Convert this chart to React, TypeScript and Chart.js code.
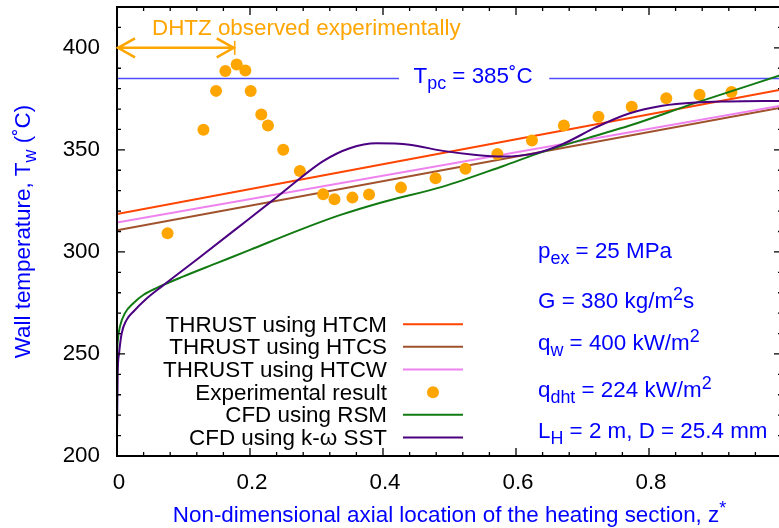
import React, { useEffect, useRef } from 'react';
import { Chart, registerables } from 'chart.js';

Chart.register(...registerables);

const FONT = '"Liberation Sans", Arial, Helvetica, sans-serif';
const FS = 22.4;

// ---- axes ----
const X_MIN = 0, X_MAX = 1, X_MINOR = 0.04;
const Y_MIN = 200, Y_MAX = 420, Y_MINOR = 10;
const X_TICKS = [0, 0.2, 0.4, 0.6, 0.8, 1];
const X_TICK_LABELS = ['0', '0.2', '0.4', '0.6', '0.8', ''];
const Y_TICKS = [200, 250, 300, 350, 400];
const Y_TICK_LABELS = ['200', '250', '300', '350', '400'];

// ---- THRUST results ----
const THRUST_Z = [0, 1];
const HTCM_T = [318.6, 379.6];
const HTCS_T = [310.6, 370.8];
const HTCW_T = [314.4, 371.8];

// ---- experiment ----
const EXP_Z = [0.076, 0.130, 0.149, 0.163, 0.180, 0.193, 0.201, 0.217, 0.227, 0.250, 0.275, 0.310, 0.327,
  0.354, 0.379, 0.427, 0.479, 0.524, 0.572, 0.624, 0.672, 0.724, 0.774, 0.826, 0.876, 0.924];
const EXP_T = [309.2, 359.8, 378.9, 388.6, 391.8, 388.9, 378.8, 367.3, 361.9, 350.0, 339.7, 328.3, 325.8,
  326.6, 328.1, 331.5, 336.1, 340.7, 348.0, 354.6, 361.9, 366.2, 371.1, 375.3, 377.0, 378.3];

// ---- CFD RSM ----
const RSM_Z = [0, 0.001, 0.0045, 0.012, 0.025, 0.04, 0.06, 0.1, 0.15, 0.2, 0.275, 0.335, 0.395, 0.49, 0.58, 0.64, 0.71, 0.77, 0.87, 1.0];
const RSM_T = [250, 256, 263.5, 270, 275, 279, 282.4, 288, 294.5, 301, 310.8, 318, 324, 332, 342, 349, 356, 361.8, 373, 386.8];

// ---- CFD k-omega SST ----
const SST_Z = [0, 0.001, 0.003, 0.007, 0.0145, 0.0245, 0.045, 0.067, 0.125, 0.195, 0.235, 0.275, 0.31, 0.35, 0.39,
  0.44, 0.49, 0.54, 0.58, 0.63, 0.67, 0.72, 0.77, 0.82, 0.87, 0.92, 1.0];
const SST_T = [211, 240, 250, 260, 266.7, 270.7, 277.3, 283, 297.5, 315.3, 325.5, 336, 344.5, 350.8, 353.2,
  352.5, 349.5, 347.5, 346.7, 348.4, 352.8, 361, 367.8, 371.6, 373.2, 373.7, 374];

// ---- reference line & annotation ----
const TPC = 385;
const TPC_LEFT_Z = [0, 0.424];
const TPC_RIGHT_Z = [0.65, 1];
const DHTZ_Z = [0, 0.177];
const DHTZ_T = 400;

const LEGEND_LABELS = [
  'THRUST using HTCM',
  'THRUST using HTCS',
  'THRUST using HTCW',
  'Experimental result',
  'CFD using RSM',
  'CFD using k-\u03c9 SST',
];

type Seg = [string, number];
const PARAM_LINES: Seg[][] = [
  [['p', 0], ['ex', -1], [' = 25 MPa', 0]],
  [['G = 380 kg/m', 0], ['2', 1], ['s', 0]],
  [['q', 0], ['w', -1], [' = 400 kW/m', 0], ['2', 1]],
  [['q', 0], ['dht', -1], [' = 224 kW/m', 0], ['2', 1]],
  [['L', 0], ['H', -1], [' = 2 m, D = 25.4 mm', 0]],
];
const TPC_LABEL: Seg[] = [['T', 0], ['pc', -1], [' = 385\u02daC', 0]];
const X_TITLE: Seg[] = [['Non-dimensional axial location of the heating section, z', 0], ['*', 1]];
const Y_TITLE: Seg[] = [['Wall temperature, T', 0], ['w', -1], [' (\u02daC)', 0]];
const DHTZ_LABEL = 'DHTZ observed experimentally';

const C_HTCM = '#ff4500';
const C_HTCS = '#a0522d';
const C_HTCW = '#ee82ee';
const C_EXP = '#ffa500';
const C_RSM = '#127a12';
const C_SST = '#4b0082';
const C_TPC = '#4d4dff';
const C_TEXT_BLUE = '#0000ff';

const pts = (xs: number[], ys: number[]) => xs.map((x, i) => ({ x, y: ys[i] }));

function drawRich(ctx: CanvasRenderingContext2D, segs: Seg[], x: number, y: number, align: 'left' | 'center' | 'right') {
  const small = FS * 0.8;
  let w = 0;
  const widths: number[] = [];
  for (const [t, m] of segs) {
    ctx.font = `${m === 0 ? FS : small}px ${FONT}`;
    const ww = ctx.measureText(t).width;
    widths.push(ww);
    w += ww;
  }
  let cx = align === 'center' ? x - w / 2 : align === 'right' ? x - w : x;
  ctx.textAlign = 'left';
  ctx.textBaseline = 'alphabetic';
  segs.forEach(([t, m], i) => {
    ctx.font = `${m === 0 ? FS : small}px ${FONT}`;
    const dy = m === -1 ? 6 : m === 1 ? -8 : 0;
    ctx.fillText(t, cx, y + dy);
    cx += widths[i];
  });
}

const annotPlugin = {
  id: 'annot',
  afterDraw(chart: any) {
    const { ctx, chartArea: a, scales } = chart;
    const xs = scales.x, ys = scales.y;
    ctx.save();

    // tick marks (inward, all four sides)
    ctx.strokeStyle = '#000';
    ctx.lineWidth = 1.3;
    const MAJ = 8, MIN = 4;
    const nx = Math.round((X_MAX - X_MIN) / X_MINOR);
    for (let i = 0; i <= nx; i++) {
      const v = X_MIN + i * X_MINOR;
      const px = xs.getPixelForValue(v);
      const L = X_TICKS.some((t) => Math.abs(t - v) < 1e-6) ? MAJ : MIN;
      ctx.beginPath();
      ctx.moveTo(px, a.bottom); ctx.lineTo(px, a.bottom - L);
      ctx.moveTo(px, a.top); ctx.lineTo(px, a.top + L);
      ctx.stroke();
    }
    const ny = Math.round((Y_MAX - Y_MIN) / Y_MINOR);
    for (let i = 0; i <= ny; i++) {
      const v = Y_MIN + i * Y_MINOR;
      const py = ys.getPixelForValue(v);
      const L = Y_TICKS.some((t) => Math.abs(t - v) < 1e-6) ? MAJ : MIN;
      ctx.beginPath();
      ctx.moveTo(a.left, py); ctx.lineTo(a.left + L, py);
      ctx.moveTo(a.right, py); ctx.lineTo(a.right - L, py);
      ctx.stroke();
    }
    ctx.lineWidth = 2;
    ctx.strokeRect(a.left, a.top, a.right - a.left, a.bottom - a.top);

    // DHTZ arrow
    const ay = ys.getPixelForValue(DHTZ_T);
    const ax0 = xs.getPixelForValue(DHTZ_Z[0]);
    const ax1 = xs.getPixelForValue(DHTZ_Z[1]);
    ctx.strokeStyle = C_EXP;
    ctx.lineWidth = 2.5;
    ctx.beginPath();
    ctx.moveTo(ax0, ay); ctx.lineTo(ax1, ay);
    ctx.moveTo(ax0 + 18, ay - 9.5); ctx.lineTo(ax0 + 1, ay); ctx.lineTo(ax0 + 18, ay + 9.5);
    ctx.moveTo(ax1 - 18, ay - 9.5); ctx.lineTo(ax1 - 1, ay); ctx.lineTo(ax1 - 18, ay + 9.5);
    ctx.stroke();
    ctx.lineWidth = 1.6;
    ctx.beginPath();
    ctx.moveTo(ax1, ay - 7); ctx.lineTo(ax1, ay + 7);
    ctx.stroke();
    ctx.fillStyle = C_EXP;
    ctx.font = `${FS}px ${FONT}`;
    ctx.textAlign = 'left';
    ctx.textBaseline = 'alphabetic';
    ctx.fillText(DHTZ_LABEL, 152, ay - 13);

    // Tpc label
    ctx.fillStyle = C_TEXT_BLUE;
    const tpy = ys.getPixelForValue(TPC);
    const tcx = (xs.getPixelForValue(TPC_LEFT_Z[1]) + xs.getPixelForValue(TPC_RIGHT_Z[0])) / 2;
    drawRich(ctx, TPC_LABEL, tcx - 1, tpy + 4.5, 'center');

    // parameters
    const PB = [258.3, 307.7, 350, 396.7, 438.3];
    PARAM_LINES.forEach((segs, i) => drawRich(ctx, segs, 538, PB[i], 'left'));

    // axis titles
    drawRich(ctx, X_TITLE, (a.left + a.right) / 2, 522, 'center');
    ctx.save();
    ctx.translate(30, (a.top + a.bottom) / 2);
    ctx.rotate(-Math.PI / 2);
    drawRich(ctx, Y_TITLE, 0, 0, 'center');
    ctx.restore();

    // legend
    LEGEND_LABELS.forEach((lab, i) => {
      const by = 331.7 + i * 22.66;
      ctx.fillStyle = '#000';
      ctx.font = `${FS}px ${FONT}`;
      ctx.textAlign = 'right';
      ctx.textBaseline = 'alphabetic';
      ctx.fillText(lab, 387, by);
      const ds = chart.data.datasets[i];
      const sy = by - 7.5;
      if (i === 3) {
        ctx.fillStyle = ds.backgroundColor;
        ctx.beginPath();
        ctx.arc(433, sy, 6, 0, Math.PI * 2);
        ctx.fill();
      } else {
        ctx.strokeStyle = ds.borderColor;
        ctx.lineWidth = 2;
        ctx.beginPath();
        ctx.moveTo(403, sy); ctx.lineTo(463, sy);
        ctx.stroke();
      }
    });

    ctx.restore();
  },
};

export default function App() {
  const ref = useRef<HTMLCanvasElement>(null);
  useEffect(() => {
    const line = (label: string, xs: number[], ys: number[], color: string, order: number, width = 2) => ({
      label,
      data: pts(xs, ys),
      borderColor: color,
      backgroundColor: color,
      borderWidth: width,
      pointRadius: 0,
      fill: false,
      cubicInterpolationMode: 'monotone',
      order,
    });
    const zeroPad = (s: any) => { s.paddingTop = 0; s.paddingBottom = 0; s.paddingLeft = 0; s.paddingRight = 0; };
    const chart = new Chart(ref.current as HTMLCanvasElement, {
      type: 'line',
      data: {
        datasets: [
          line(LEGEND_LABELS[0], THRUST_Z, HTCM_T, C_HTCM, 9),
          line(LEGEND_LABELS[1], THRUST_Z, HTCS_T, C_HTCS, 8),
          line(LEGEND_LABELS[2], THRUST_Z, HTCW_T, C_HTCW, 7),
          {
            label: LEGEND_LABELS[3],
            data: pts(EXP_Z, EXP_T),
            showLine: false,
            pointRadius: 6,
            pointStyle: 'circle',
            backgroundColor: C_EXP,
            borderColor: C_EXP,
            borderWidth: 0,
            order: 6,
          },
          line(LEGEND_LABELS[4], RSM_Z, RSM_T, C_RSM, 5),
          line(LEGEND_LABELS[5], SST_Z, SST_T, C_SST, 4),
          line('Tpc-left', TPC_LEFT_Z, TPC_LEFT_Z.map(() => TPC), C_TPC, 10, 1.6),
          line('Tpc-right', TPC_RIGHT_Z, TPC_RIGHT_Z.map(() => TPC), C_TPC, 10, 1.6),
        ] as any,
      },
      options: {
        animation: false,
        responsive: false,
        devicePixelRatio: 1,
        layout: { padding: { left: 0, right: 18, top: 7, bottom: 0 } },
        plugins: { legend: { display: false }, tooltip: { enabled: false } },
        scales: {
          x: {
            type: 'linear',
            min: X_MIN,
            max: X_MAX,
            grid: { display: false, drawTicks: false },
            border: { display: false },
            ticks: {
              color: '#000',
              font: { family: FONT, size: FS },
              padding: 13,
              labelOffset: 2,
              maxRotation: 0,
              autoSkip: false,
              callback: (_v: any, i: number) => X_TICK_LABELS[i],
            },
            afterBuildTicks: (s: any) => { s.ticks = X_TICKS.map((v) => ({ value: v })); },
            afterFit: (s: any) => { s.height = 72; zeroPad(s); },
          },
          y: {
            type: 'linear',
            min: Y_MIN,
            max: Y_MAX,
            grid: { display: false, drawTicks: false },
            border: { display: false },
            ticks: {
              color: '#000',
              font: { family: FONT, size: FS },
              padding: 17,
              autoSkip: false,
              callback: (_v: any, i: number) => Y_TICK_LABELS[i],
            },
            afterBuildTicks: (s: any) => { s.ticks = Y_TICKS.map((v) => ({ value: v })); },
            afterFit: (s: any) => { s.width = 117; zeroPad(s); },
          },
        },
      } as any,
      plugins: [annotPlugin],
    });
    return () => chart.destroy();
  }, []);
  return (
    <div style={{ position: 'fixed', left: 0, top: 0, width: 779, height: 528, overflow: 'hidden', background: '#fff' }}>
      <canvas ref={ref} width={800} height={528} style={{ display: 'block', width: 800, height: 528 }} />
    </div>
  );
}
